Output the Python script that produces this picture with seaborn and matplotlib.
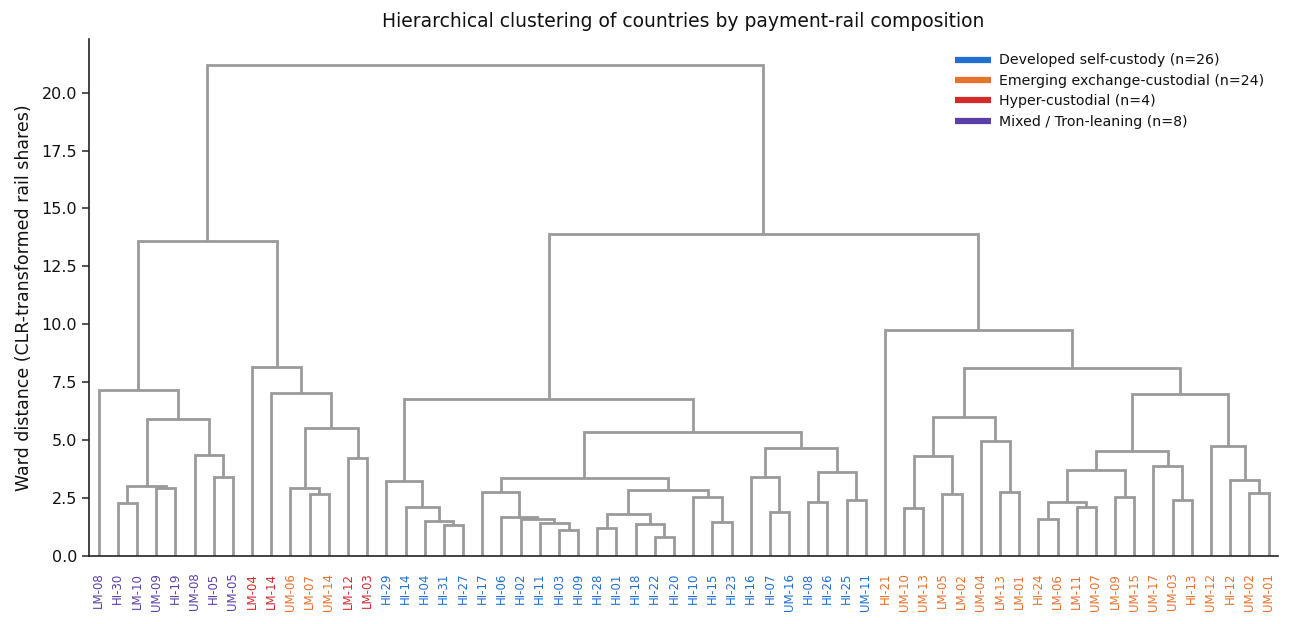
import numpy as np
import pandas as pd
import matplotlib
matplotlib.use("Agg")
import matplotlib.pyplot as plt
from matplotlib.lines import Line2D
import seaborn as sns

# leaf order as it appears along the x axis, with its group
leaf_names = [
    "LM-08", "HI-30", "LM-10", "UM-09", "HI-19", "UM-08", "HI-05", "UM-05",
    "LM-04", "LM-14", "UM-06", "LM-07", "UM-14", "LM-12", "LM-03",
    "HI-29", "HI-14", "HI-04", "HI-31", "HI-27", "HI-17", "HI-06", "HI-02",
    "HI-11", "HI-03", "HI-09", "HI-28", "HI-01", "HI-18", "HI-22", "HI-20",
    "HI-10", "HI-15", "HI-23", "HI-16", "HI-07", "UM-16", "HI-08", "HI-26",
    "HI-25", "UM-11",
    "HI-21", "UM-10", "UM-13", "LM-05", "LM-02", "UM-04", "LM-13", "LM-01",
    "HI-24", "LM-06", "LM-11", "UM-07", "LM-09", "UM-15", "UM-17", "UM-03",
    "HI-13", "UM-12", "HI-12", "UM-02", "UM-01",
]
leaf_groups = (
    ["Mixed"] * 8
    + ["Hyper", "Hyper", "Emerging", "Emerging", "Emerging", "Hyper", "Hyper"]
    + ["Developed"] * 26
    + ["Emerging"] * 21
)

group_labels = {
    "Developed": "Developed self-custody (n=26)",
    "Emerging": "Emerging exchange-custodial (n=24)",
    "Hyper": "Hyper-custodial (n=4)",
    "Mixed": "Mixed / Tron-leaning (n=8)",
}
group_colors = {
    "Developed": "#2070d2",
    "Emerging": "#e8712b",
    "Hyper": "#d42a2a",
    "Mixed": "#5b3fa6",
}

# merges: (left, right, ward distance); ints point to earlier merges
merges = [
    ("HI-30", "LM-10", 2.30),   # 0
    ("UM-09", "HI-19", 2.93),   # 1
    (0, 1, 3.00),               # 2
    ("HI-05", "UM-05", 3.40),   # 3
    ("UM-08", 3, 4.35),         # 4
    (2, 4, 5.90),               # 5
    ("LM-08", 5, 7.15),         # 6
    ("LM-07", "UM-14", 2.67),   # 7
    ("UM-06", 7, 2.93),         # 8
    ("LM-12", "LM-03", 4.24),   # 9
    (8, 9, 5.53),               # 10
    ("LM-14", 10, 7.02),        # 11
    ("LM-04", 11, 8.16),        # 12
    (6, 12, 13.59),             # 13
    ("HI-31", "HI-27", 1.32),   # 14
    ("HI-04", 14, 1.50),        # 15
    ("HI-14", 15, 2.13),        # 16
    ("HI-29", 16, 3.25),        # 17
    ("HI-03", "HI-09", 1.12),   # 18
    ("HI-11", 18, 1.44),        # 19
    ("HI-02", 19, 1.58),        # 20
    ("HI-06", 20, 1.67),        # 21
    ("HI-17", 21, 2.76),        # 22
    ("HI-28", "HI-01", 1.22),   # 23
    ("HI-22", "HI-20", 0.83),   # 24
    ("HI-18", 24, 1.38),        # 25
    (23, 25, 1.81),             # 26
    ("HI-15", "HI-23", 1.47),   # 27
    ("HI-10", 27, 2.53),        # 28
    (26, 28, 2.84),             # 29
    (22, 29, 3.37),             # 30
    ("HI-07", "UM-16", 1.91),   # 31
    ("HI-16", 31, 3.42),        # 32
    ("HI-08", "HI-26", 2.34),   # 33
    ("HI-25", "UM-11", 2.40),   # 34
    (33, 34, 3.62),             # 35
    (32, 35, 4.66),             # 36
    (30, 36, 5.36),             # 37
    (17, 37, 6.77),             # 38
    ("UM-10", "UM-13", 2.08),   # 39
    ("LM-05", "LM-02", 2.67),   # 40
    (39, 40, 4.31),             # 41
    ("LM-13", "LM-01", 2.77),   # 42
    ("UM-04", 42, 4.97),        # 43
    (41, 43, 5.99),             # 44
    ("HI-24", "LM-06", 1.59),   # 45
    ("LM-11", "UM-07", 2.13),   # 46
    (45, 46, 2.34),             # 47
    ("LM-09", "UM-15", 2.56),   # 48
    (47, 48, 3.71),             # 49
    ("UM-03", "HI-13", 2.41),   # 50
    ("UM-17", 50, 3.88),        # 51
    (49, 51, 4.54),             # 52
    ("UM-02", "UM-01", 2.70),   # 53
    ("HI-12", 53, 3.30),        # 54
    ("UM-12", 54, 4.74),        # 55
    (52, 55, 7.01),             # 56
    (44, 56, 8.12),             # 57
    ("HI-21", 57, 9.77),        # 58
    (38, 58, 13.88),            # 59
    (13, 59, 21.19),            # 60
]

sns.set_style("ticks")
plt.rcParams["font.family"] = ["DejaVu Sans"]

fig = plt.figure(figsize=(12.91, 6.24), dpi=100)
ax = fig.add_axes([0.069, 0.109, 0.921, 0.828])

leaf_x = {name: 5 + 10 * i for i, name in enumerate(leaf_names)}
node_pos = []  # (x, height) of each merge


def pos(node):
    if isinstance(node, str):
        return leaf_x[node], 0.0
    return node_pos[node]


link_color = "#9a9a9a"
for a, b, h in merges:
    xa, ha = pos(a)
    xb, hb = pos(b)
    ax.plot([xa, xa, xb, xb], [ha, h, h, hb], color=link_color, lw=2.0,
            solid_capstyle="butt", solid_joinstyle="miter")
    node_pos.append(((xa + xb) / 2, h))

ax.set_xlim(0, 10 * len(leaf_names))
ax.set_ylim(0, 22.3)
yt = np.arange(0, 20.1, 2.5)
ax.set_yticks(yt)
ax.set_yticklabels([f"{v:.1f}" for v in yt])
ax.set_xticks([leaf_x[n] for n in leaf_names])
ax.set_xticklabels(leaf_names, rotation=90, fontsize=8.5)
for lbl, g in zip(ax.get_xticklabels(), leaf_groups):
    lbl.set_color(group_colors[g])
ax.tick_params(axis="x", length=0, pad=12)
ax.tick_params(axis="y", labelsize=11.5, length=5, width=1.1, labelcolor="#111111")
for sp in ("left", "bottom"):
    ax.spines[sp].set_linewidth(1.2)
    ax.spines[sp].set_color("#222222")
sns.despine(ax=ax)

ax.set_ylabel("Ward distance (CLR-transformed rail shares)", fontsize=12.5,
              labelpad=6, color="#111111")
ax.set_title("Hierarchical clustering of countries by payment-rail composition",
             fontsize=13.5, pad=9, color="#111111")

handles = [Line2D([0], [0], color=group_colors[g], lw=4.5, solid_capstyle="butt")
           for g in group_labels]
leg = ax.legend(handles, list(group_labels.values()), loc="upper right",
                frameon=False, fontsize=10.2, handlelength=2.55,
                handletextpad=0.55, labelspacing=0.45, borderaxespad=0.6)
for t in leg.get_texts():
    t.set_color("#111111")

fig.savefig("out.png", dpi=100)
